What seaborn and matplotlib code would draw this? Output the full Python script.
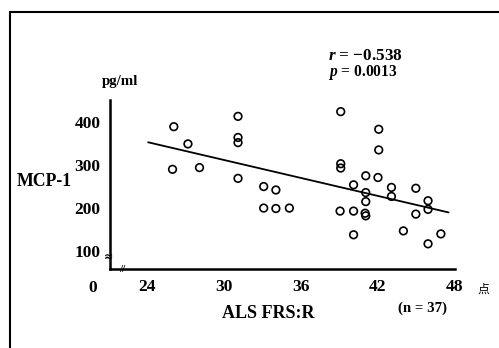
import numpy as np
import pandas as pd
import matplotlib
matplotlib.use("Agg")
import matplotlib.pyplot as plt
from matplotlib.lines import Line2D
import seaborn as sns

# Data (ALS FRS-R score vs MCP-1 pg/ml)
als_frs_r = [26.1, 26.0, 27.2, 28.1, 31.1, 31.1, 31.1, 31.1, 33.1, 34.05,
             33.1, 34.05, 35.1, 39.1, 39.1, 39.1, 39.05, 40.1, 40.1, 40.1,
             41.05, 41.05, 41.05, 41.0, 41.05, 42.06, 42.06, 42.0, 43.05, 43.05,
             43.98, 44.95, 44.95, 45.9, 45.9, 45.9, 46.9]
mcp1 = [388, 289, 348, 293, 412, 363, 351, 268, 249, 241,
        199, 198, 199, 423, 302, 292, 192, 253, 192, 137,
        274, 235, 214, 187, 181, 382, 334, 270, 247, 226,
        146, 245, 185, 216, 196, 116, 139]
fit_x_range = [24.1, 47.5]
x_ticks = [24, 30, 36, 42, 48]
y_ticks = [100, 200, 300, 400]
y_minor = [150, 250, 350]

sns.set_theme(style="white")
plt.rcParams["font.family"] = ["Liberation Serif", "Noto Sans CJK JP", "DejaVu Sans"]
plt.rcParams["mathtext.fontset"] = "custom"
plt.rcParams["mathtext.it"] = "Liberation Serif:italic:bold"
plt.rcParams["mathtext.rm"] = "Liberation Serif:bold"
plt.rcParams["text.color"] = "black"
plt.rcParams["xtick.color"] = "black"
plt.rcParams["ytick.color"] = "black"

df = pd.DataFrame({"x": als_frs_r, "y": mcp1})

fig = plt.figure(figsize=(4.99, 3.48), dpi=100)
ax = fig.add_axes([110/499, 1-269/348, (455-110)/499, (269-100)/348])

sns.scatterplot(data=df, x="x", y="y", ax=ax, marker="o", s=30,
                facecolor="none", edgecolor="black", linewidth=1.2, legend=False)

slope, intercept = np.polyfit(als_frs_r, mcp1, 1)
fx = np.array(fit_x_range)
sns.lineplot(x=fx, y=slope*fx + intercept, ax=ax, color="black", linewidth=1.3)

ax.set_xlim(21.13, 48)
ax.set_ylim(57.5, 450)
ax.set_xticks(x_ticks)
ax.set_xticklabels([str(t) for t in x_ticks], fontweight="bold", fontsize=12.5)
ax.set_yticks(y_ticks)
ax.set_yticklabels([str(t) for t in y_ticks], fontweight="bold", fontsize=12.5)
ax.set_yticks(y_minor, minor=True)
ax.tick_params(axis="both", which="major", direction="in", length=3, width=1.2,
               colors="black")
ax.tick_params(axis="y", which="major", pad=7)
ax.tick_params(axis="y", which="minor", direction="in", length=2, width=1.0)
ax.tick_params(axis="x", pad=7)
ax.set_xlabel("")
ax.set_ylabel("")
for s in ["top", "right"]:
    ax.spines[s].set_visible(False)
for s in ["left", "bottom"]:
    ax.spines[s].set_linewidth(1.8)
    ax.spines[s].set_color("black")

# texts
fig.text(120/499, 1-82/348, "pg/ml", ha="center", va="center", fontsize=10.7, fontweight="bold")
fig.text(44/499, 1-182/348, "MCP-1", ha="center", va="center", fontsize=12.8, fontweight="bold")
fig.text(93/499, 1-288/348, "0", ha="center", va="center", fontsize=12.5, fontweight="bold")
fig.text(268/499, 1-313/348, "ALS FRS:R", ha="center", va="center", fontsize=13, fontweight="bold")
fig.text(422/499, 1-308/348, "(n = 37)", ha="center", va="center", fontsize=10.7, fontweight="bold")
fig.text(483/499, 1-290/348, "点", ha="center", va="center", fontsize=8.5)
fig.text(328/499, 1-56/348, r"$r$ = −0.538", ha="left", va="center", fontsize=12.3, fontweight="bold")
fig.text(328/499, 1-73/348, r"$p$ = 0.0013", ha="left", va="center", fontsize=11.2, fontweight="bold")
# axis break marks
fig.text(122/499, 1-270/348, "//", ha="center", va="center", fontsize=8, fontweight="bold")
fig.text(109/499, 1-257/348, "≈", ha="center", va="center", fontsize=8, fontweight="bold",
         family=["DejaVu Sans"])

# page frame
fig.add_artist(Line2D([9.5/499, 1.0], [1-11.5/348, 1-11.5/348], color="black", linewidth=1.5))
fig.add_artist(Line2D([9.5/499, 9.5/499], [1-11.5/348, 0.0], color="black", linewidth=1.5))

fig.savefig("out.png", dpi=100, facecolor="white")
